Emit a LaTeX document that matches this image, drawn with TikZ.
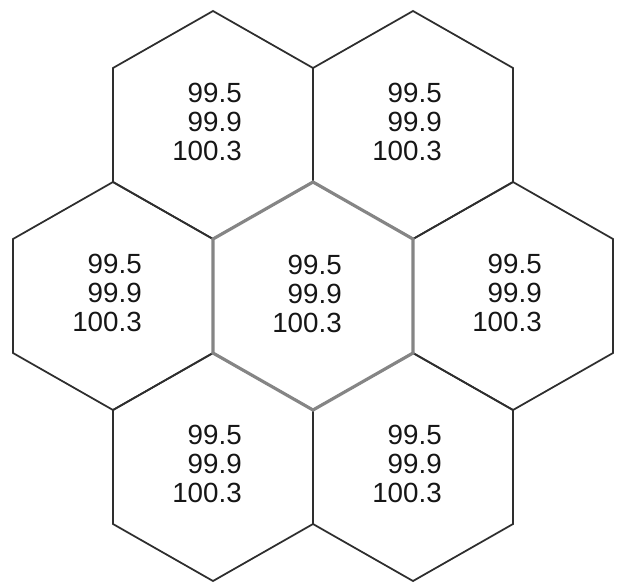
\documentclass[tikz,border=0pt]{standalone}
\usepackage{fontspec}
\setmainfont{Liberation Sans}
\usetikzlibrary{positioning}
\definecolor{hxline}{HTML}{2E2E2E}
\definecolor{hxmid}{HTML}{858585}
\definecolor{hxtext}{HTML}{161616}
\tikzset{
  cell/.style={draw=hxline,line width=1pt},
  midcell/.style={draw=hxmid,line width=1.8pt},
  freq/.style={align=right,font=\fontsize{15.8}{16.3}\selectfont,text=hxtext,inner sep=0pt},
}

\begin{document}
\begin{tikzpicture}[x=0.02cm,y=-0.02cm]
  \useasboundingbox (0,0) rectangle (617,582);
  % hex: centre x, centre y, style
  \def\hex#1#2#3{\draw[#3,shift={(#1,#2)}] (0,-114) -- (100,-57) -- (100,57) -- (0,114)
      -- (-100,57) -- (-100,-57) -- cycle;}

  % ---- outer ring ----
  \foreach \cx/\cy/\nm in {213/125/nw,413/125/ne,113/296/w,513/296/e,213/467/sw,413/467/se}{
    \hex{\cx}{\cy}{cell}
    \node[freq] (f\nm) at (\cx-6,\cy-3) {99.5\\99.9\\100.3};}

  % ---- centre cell ----
  \hex{313}{296}{midcell}
  \node[freq] (fc) at (307,294) {99.5\\99.9\\100.3};
\end{tikzpicture}
\end{document}
